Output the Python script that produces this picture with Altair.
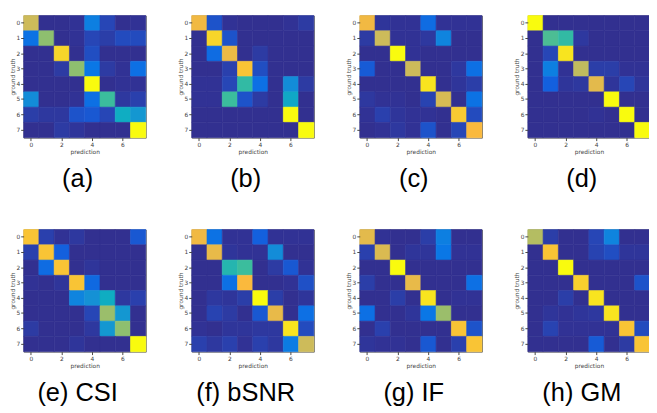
import altair as alt
import pandas as pd

CLASSES = list(range(8))
X_TICKS = [0, 2, 4, 6]
CAPTIONS = ["(a)", "(b)", "(c)", "(d)", "(e) CSI", "(f) bSNR", "(g) IF", "(h) GM"]

MAT_A = [
    [0.80, 0.02, 0.02, 0.03, 0.33, 0.10, 0.02, 0.03],
    [0.28, 0.70, 0.02, 0.03, 0.10, 0.07, 0.12, 0.12],
    [0.02, 0.02, 0.95, 0.02, 0.13, 0.02, 0.02, 0.02],
    [0.02, 0.02, 0.06, 0.70, 0.30, 0.06, 0.03, 0.27],
    [0.02, 0.02, 0.02, 0.02, 1.00, 0.02, 0.03, 0.03],
    [0.38, 0.02, 0.02, 0.03, 0.27, 0.60, 0.05, 0.08],
    [0.07, 0.05, 0.05, 0.15, 0.17, 0.10, 0.50, 0.42],
    [0.02, 0.02, 0.06, 0.04, 0.02, 0.02, 0.02, 1.00],
]
MAT_B = [
    [0.88, 0.15, 0.03, 0.02, 0.02, 0.02, 0.03, 0.06],
    [0.02, 0.95, 0.15, 0.02, 0.02, 0.02, 0.02, 0.02],
    [0.02, 0.25, 0.87, 0.02, 0.06, 0.02, 0.02, 0.02],
    [0.02, 0.02, 0.08, 0.92, 0.13, 0.02, 0.02, 0.02],
    [0.03, 0.03, 0.10, 0.58, 0.27, 0.02, 0.38, 0.06],
    [0.03, 0.03, 0.60, 0.15, 0.06, 0.02, 0.48, 0.02],
    [0.02, 0.02, 0.02, 0.02, 0.02, 0.02, 1.00, 0.02],
    [0.02, 0.02, 0.02, 0.02, 0.02, 0.02, 0.02, 1.00],
]
MAT_C = [
    [0.88, 0.04, 0.03, 0.03, 0.25, 0.03, 0.03, 0.03],
    [0.06, 0.80, 0.03, 0.03, 0.05, 0.35, 0.02, 0.02],
    [0.02, 0.02, 1.00, 0.03, 0.02, 0.02, 0.02, 0.02],
    [0.18, 0.02, 0.02, 0.80, 0.02, 0.02, 0.05, 0.27],
    [0.02, 0.02, 0.02, 0.02, 0.97, 0.02, 0.04, 0.07],
    [0.05, 0.03, 0.03, 0.02, 0.09, 0.82, 0.02, 0.28],
    [0.03, 0.08, 0.04, 0.03, 0.03, 0.02, 0.93, 0.12],
    [0.02, 0.03, 0.05, 0.03, 0.15, 0.02, 0.10, 0.90],
]
MAT_D = [
    [1.00, 0.02, 0.02, 0.02, 0.02, 0.02, 0.02, 0.02],
    [0.02, 0.62, 0.58, 0.05, 0.02, 0.02, 0.02, 0.02],
    [0.02, 0.10, 0.97, 0.02, 0.02, 0.02, 0.02, 0.02],
    [0.02, 0.33, 0.03, 0.78, 0.07, 0.07, 0.03, 0.03],
    [0.02, 0.20, 0.04, 0.05, 0.85, 0.04, 0.10, 0.04],
    [0.02, 0.02, 0.02, 0.02, 0.02, 1.00, 0.02, 0.02],
    [0.02, 0.02, 0.02, 0.02, 0.03, 0.02, 1.00, 0.02],
    [0.02, 0.02, 0.02, 0.02, 0.02, 0.02, 0.02, 1.00],
]
MAT_E = [
    [0.92, 0.08, 0.03, 0.05, 0.02, 0.02, 0.02, 0.17],
    [0.08, 0.92, 0.20, 0.02, 0.02, 0.02, 0.02, 0.02],
    [0.02, 0.25, 0.92, 0.02, 0.04, 0.02, 0.02, 0.02],
    [0.03, 0.02, 0.04, 0.92, 0.24, 0.02, 0.02, 0.02],
    [0.02, 0.02, 0.02, 0.35, 0.40, 0.50, 0.05, 0.08],
    [0.02, 0.02, 0.02, 0.02, 0.10, 0.72, 0.42, 0.02],
    [0.06, 0.02, 0.02, 0.02, 0.05, 0.42, 0.70, 0.02],
    [0.02, 0.02, 0.02, 0.04, 0.02, 0.02, 0.02, 1.00],
]
MAT_F = [
    [0.88, 0.28, 0.03, 0.03, 0.20, 0.03, 0.03, 0.03],
    [0.02, 0.86, 0.04, 0.03, 0.03, 0.38, 0.02, 0.02],
    [0.02, 0.02, 0.55, 0.60, 0.02, 0.06, 0.17, 0.03],
    [0.02, 0.02, 0.27, 0.90, 0.02, 0.02, 0.03, 0.14],
    [0.02, 0.05, 0.04, 0.07, 1.00, 0.07, 0.02, 0.04],
    [0.02, 0.09, 0.06, 0.02, 0.17, 0.86, 0.02, 0.27],
    [0.03, 0.02, 0.04, 0.04, 0.05, 0.05, 0.97, 0.12],
    [0.08, 0.05, 0.08, 0.03, 0.08, 0.05, 0.32, 0.80],
]
MAT_G = [
    [0.85, 0.03, 0.02, 0.02, 0.07, 0.33, 0.02, 0.02],
    [0.08, 0.83, 0.02, 0.04, 0.04, 0.30, 0.03, 0.03],
    [0.02, 0.02, 1.00, 0.02, 0.02, 0.02, 0.02, 0.02],
    [0.07, 0.02, 0.02, 0.86, 0.02, 0.02, 0.02, 0.27],
    [0.02, 0.02, 0.07, 0.02, 0.97, 0.02, 0.03, 0.03],
    [0.27, 0.02, 0.02, 0.04, 0.30, 0.72, 0.02, 0.02],
    [0.02, 0.08, 0.02, 0.02, 0.02, 0.02, 0.92, 0.15],
    [0.04, 0.03, 0.03, 0.02, 0.17, 0.02, 0.08, 0.92],
]
MAT_H = [
    [0.76, 0.07, 0.02, 0.02, 0.10, 0.35, 0.02, 0.02],
    [0.02, 0.92, 0.02, 0.02, 0.09, 0.13, 0.04, 0.04],
    [0.02, 0.02, 1.00, 0.02, 0.02, 0.02, 0.02, 0.02],
    [0.02, 0.02, 0.02, 0.94, 0.02, 0.02, 0.02, 0.15],
    [0.02, 0.02, 0.07, 0.02, 0.97, 0.02, 0.02, 0.02],
    [0.02, 0.04, 0.03, 0.04, 0.05, 0.97, 0.02, 0.02],
    [0.02, 0.09, 0.03, 0.03, 0.03, 0.03, 0.92, 0.12],
    [0.02, 0.02, 0.02, 0.02, 0.18, 0.02, 0.06, 0.92],
]
MATRICES = [MAT_A, MAT_B, MAT_C, MAT_D, MAT_E, MAT_F, MAT_G, MAT_H]

COLOR_STOPS = [0, 0.1, 0.2, 0.3, 0.4, 0.5, 0.6, 0.7, 0.8, 0.9, 0.95, 1.0]
COLOR_RANGE = ["#352a87", "#2746b6", "#1360de", "#0a77e6", "#1591d5", "#0fadc2",
               "#3bbd9d", "#8ebf6f", "#cdbb5a", "#fab93d", "#f7d52a", "#f9fb0e"]

color_scale = alt.Scale(domain=COLOR_STOPS, range=COLOR_RANGE, interpolate="rgb")


def panel(mat, caption):
    rows = []
    for i, row in enumerate(mat):
        for j, v in enumerate(row):
            rows.append({"truth": CLASSES[i], "pred": CLASSES[j], "v": v})
    df = pd.DataFrame(rows)
    return alt.Chart(
        df,
        title=alt.TitleParams(caption, orient="bottom", fontSize=26,
                              font="Liberation Sans", fontWeight="normal",
                              color="#000", offset=12, frame="bounds"),
    ).mark_rect(strokeWidth=0.6).encode(
        x=alt.X("pred:O", scale=alt.Scale(domain=CLASSES, paddingInner=0, paddingOuter=0),
                axis=alt.Axis(values=X_TICKS, title="prediction", labelAngle=0)),
        y=alt.Y("truth:O", scale=alt.Scale(domain=CLASSES, paddingInner=0, paddingOuter=0),
                axis=alt.Axis(values=CLASSES, title="ground truth")),
        color=alt.Color("v:Q", scale=color_scale, legend=None),
        stroke=alt.Color("v:Q", scale=color_scale, legend=None),
    ).properties(width=125, height=125)


charts = [panel(m, c) for m, c in zip(MATRICES, CAPTIONS)]
row1 = alt.hconcat(*charts[:4], spacing=30)
row2 = alt.hconcat(*charts[4:], spacing=30)

chart = alt.vconcat(row1, row2, spacing=37).properties(
    padding={"left": 0, "top": 2, "right": -2, "bottom": 0}
).configure_axis(
    labelFontSize=6, titleFontSize=6, labelColor="#444", titleColor="#444",
    labelFont="DejaVu Sans", titleFont="DejaVu Sans", titleFontWeight="normal",
    tickSize=3, tickColor="#444", domain=False, labelPadding=1, titlePadding=1,
    grid=False,
).configure_view(stroke="#666", strokeWidth=1).configure_concat(spacing=30)

chart.save("out.html", embed_options={"renderer": "svg", "actions": False})
